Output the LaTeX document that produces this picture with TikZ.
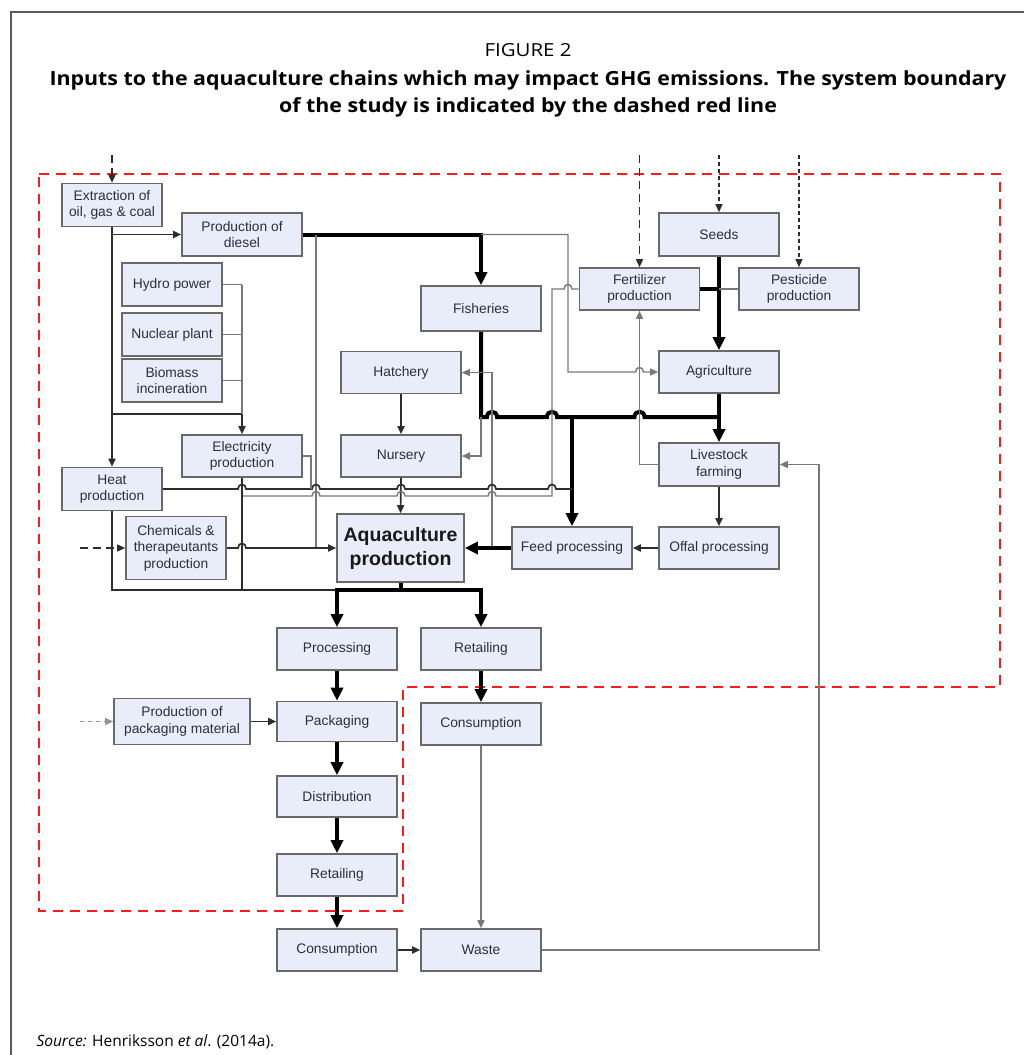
\documentclass[tikz,border=0pt]{standalone}
\usepackage{fontspec}
\setmainfont{Liberation Sans}
\newfontfamily\titlefont{Open Sans}
\usetikzlibrary{arrows.meta}
\definecolor{boxfill}{RGB}{233,237,249}
\definecolor{boxdraw}{RGB}{105,105,105}
\definecolor{txt}{RGB}{45,45,62}
\definecolor{ln}{RGB}{120,120,120}
\definecolor{dk}{RGB}{45,45,45}
\definecolor{bred}{RGB}{255,25,25}
\definecolor{framecol}{RGB}{90,90,90}
\newcommand\hopH[2]{-- ({#1-4},#2) .. controls ({#1-4},{#2-6}) and ({#1+4},{#2-6}) .. ({#1+4},#2)}
\newcommand\hopT[2]{-- ({#1-5},#2) .. controls ({#1-5},{#2-7}) and ({#1+5},{#2-7}) .. ({#1+5},#2)}
\newlength\tlw
\newlength\tlwb
\begin{document}
\settowidth\tlw{\titlefont\bfseries\fontsize{19.5}{22}\selectfont Inputs to the aquaculture chains which may impact GHG emissions. The system boundary}%
\pgfmathsetmacro\tsc{957/\tlw}%
\settowidth\tlwb{\titlefont\fontsize{18}{22}\selectfont FIGURE 2}%
\pgfmathsetmacro\fsc{87/\tlwb}%
\begin{tikzpicture}[x=1pt,y=-1pt,
  box/.style={draw=boxdraw, fill=boxfill, line width=1.6pt, minimum width=120pt,
    minimum height=42pt, inner sep=0pt, align=center, text=txt,
    font=\fontsize{13.8}{16.5}\selectfont},
  thinln/.style={draw=ln, line width=1.4pt},
  darkln/.style={draw=dk, line width=1.7pt},
  thickln/.style={draw=black, line width=4pt},
  tipS/.tip={Triangle[length=8pt,width=7pt]},
  tipL/.tip={Triangle[length=13pt,width=12pt]},
  dshA/.style={draw=dk, line width=1.5pt, dash pattern=on 8pt off 5pt},
  dshB/.style={draw=dk, line width=1.3pt, dash pattern=on 4pt off 3pt},
  dshC/.style={draw=ln!80, line width=1.3pt, dash pattern=on 4pt off 4pt},
  redb/.style={draw=bred, line width=2.6pt, dash pattern=on 10pt off 7pt},
]
\useasboundingbox (0,0) rectangle (1023,1055);
\draw[framecol, line width=1.5pt] (11,1060) -- (11,12) -- (1030,12);

% ---- title
\node[anchor=base, font=\titlefont\fontsize{18}{22}\selectfont] (t0) at (528,56) {\scalebox{\fsc}[1]{FIGURE 2}};
\node[anchor=base, font=\titlefont\bfseries\fontsize{19.5}{22}\selectfont] (t1) at (528,85) {\scalebox{\tsc}[1]{Inputs to the aquaculture chains which may impact GHG emissions. The system boundary}};
\node[anchor=base, font=\titlefont\bfseries\fontsize{19.5}{22}\selectfont] (t2) at (528,112) {\scalebox{\tsc}[1]{of the study is indicated by the dashed red line}};
\node[anchor=base west, font=\titlefont\fontsize{15.5}{18}\selectfont] (src) at (33,1046) {\textit{Source:} Henriksson \textit{et al}. (2014a).};

% ---- system boundary
\draw[redb] (39,174) -- (1000,174) -- (1000,687) -- (403,687) -- (403,911) -- (39,911) -- cycle;

% ---- nodes
\node[box, minimum width=100pt, minimum height=43pt] (ext) at (112,205) {Extraction of\\oil, gas \& coal};
\node[box, minimum height=43pt] (dies) at (242,234.5) {Production of\\diesel};
\node[box, minimum width=100pt, minimum height=43pt] (hydro) at (172,284.5) {Hydro power};
\node[box, minimum width=100pt, minimum height=43pt] (nucl) at (172,334.5) {Nuclear plant};
\node[box, minimum width=100pt, minimum height=43pt] (bio) at (172,380.5) {Biomass\\incineration};
\node[box] (elec) at (242,456) {Electricity\\production};
\node[box, minimum width=100pt, minimum height=43pt] (heat) at (112,489) {Heat\\production};
\node[box, minimum width=100pt, minimum height=63pt] (chem) at (176,548) {Chemicals \&\\therapeutants\\production};
\node[box, minimum width=127pt, minimum height=68pt, text=black!90,
      font=\fontsize{19.5}{24}\selectfont\bfseries] (aqua) at (400.5,548) {Aquaculture\\production};
\node[box] (hatch) at (401,372.5) {Hatchery};
\node[box] (nurs) at (401,456) {Nursery};
\node[box, minimum height=45pt] (fish) at (481,308.5) {Fisheries};
\node[box] (fert) at (639.5,289) {Fertilizer\\production};
\node[box, minimum height=43pt] (seeds) at (719,234.5) {Seeds};
\node[box] (pest) at (799,289) {Pesticide\\production};
\node[box] (agri) at (719,372) {Agriculture};
\node[box, minimum height=43pt] (live) at (719,464.5) {Livestock\\farming};
\node[box] (offal) at (719,548) {Offal processing};
\node[box] (feed) at (572,548) {Feed processing};
\node[box] (proc) at (337,649) {Processing};
\node[box, minimum height=40pt] (pack) at (337,721.5) {Packaging};
\node[box, minimum height=41pt] (dist) at (337,796.5) {Distribution};
\node[box] (retL) at (337,875) {Retailing};
\node[box] (consL) at (337,950) {Consumption};
\node[box, minimum width=136pt, minimum height=46pt] (pkm) at (182,721.5) {Production of\\packaging material};
\node[box] (retR) at (481,649) {Retailing};
\node[box] (consR) at (481,724) {Consumption};
\node[box] (waste) at (481,950) {Waste};

% ---- free ends of external inputs
\coordinate (sExt) at (112,155);
\coordinate (sFert) at (639.5,155);
\coordinate (sSeed) at (719,155);
\coordinate (sPest) at (799,155);
\coordinate (sChem) at (80,548);
\coordinate (sPkm) at (80,721.5);

\draw[dshA,-tipS] (sExt) -- (ext.north);
\draw[dshA,-tipS] (sFert) -- (fert.north);
\draw[dshB,-tipS] (sSeed) -- (seeds.north);
\draw[dshB,-tipS] (sPest) -- (pest.north);
\draw[dshA,-tipS] (sChem) -- (chem.west);
\draw[dshC,-tipS] (sPkm) -- (pkm.west);

% ---- energy
\draw[darkln,-tipS] (ext.south) -- (heat.north);
\draw[darkln,-tipS] (ext.south |- dies.west) -- (dies.west);
\draw[darkln] (112,414) -- (242,414);
\draw[thinln] (hydro.east) -- (242,284.5);
\draw[thinln] (nucl.east) -- (242,334.5);
\draw[thinln] (bio.east) -- (242,380.5);
\draw[thinln] (242,284.5) -- (242,414);
\draw[darkln,-tipS] (242,414) -- (elec.north);

% ---- diesel
\draw[thickln,-tipL] (dies.east) -- (481,234.5) -- (fish.north);
\draw[thinln,-tipS] (481,234.5) -- (568,234.5) -- (568,372) \hopH{639.5}{372} -- (agri.west);
\draw[thinln] (316,234.5) -- (316,548);

% ---- fisheries / agriculture to feed
\draw[thickln] (fish.south) -- (481,417) \hopT{492}{417} \hopT{552}{417} \hopT{639.5}{417} -- (719,417);
\draw[thickln,-tipL] (572,417) -- (feed.north);
\draw[thickln,-tipL] (seeds.south) -- (agri.north);
\draw[thickln,-tipL] (agri.south) -- (live.north);
\draw[thickln] (fert.east) -- (719,289);
\draw[thinln] (pest.west) -- (719,289);

% ---- hatchery / nursery
\draw[thinln,-tipS] (492,548) -- (492,372.5) -- (hatch.east);
\draw[thinln,-tipS] (481,417) -- (481,456) -- (nurs.east);
\draw[darkln,-tipS] (hatch.south) -- (nurs.north);
\draw[darkln,-tipS] (nurs.south) -- (aqua.north);

% ---- fertilizer / livestock
\draw[thinln] (242,496) \hopH{316}{496} \hopH{401}{496} \hopH{492}{496} -- (552,496) -- (552,289) \hopH{568}{289} -- (fert.west);
\draw[thinln,-tipS] (live.west) -- (639.5,464.5) -- (fert.south);

% ---- heat & electricity
\draw[darkln] (heat.east) \hopH{242}{489} \hopH{316}{489} \hopH{401}{489} \hopH{492}{489} \hopH{552}{489} -- (572,489);
\draw[thinln] (elec.east) -- (311,456) -- (311,489);
\draw[darkln] (elec.south) -- (242,590);
\draw[darkln] (heat.south) -- (112,590) -- (337,590);
\draw[darkln,-tipS] (chem.east) \hopH{242}{548} -- (aqua.west);

% ---- aquaculture output
\draw[thickln] (aqua.south) -- (400.5,590);
\draw[thickln,-tipL] (400.5,590) -| (proc.north);
\draw[thickln,-tipL] (400.5,590) -| (retR.north);
\draw[thickln,-tipL] (feed.west) -- (aqua.east);
\draw[darkln,-tipS] (offal.west) -- (feed.east);
\draw[darkln,-tipS] (live.south) -- (offal.north);

% ---- downstream chain
\draw[thickln,-tipL] (proc.south) -- (pack.north);
\draw[thickln,-tipL] (pack.south) -- (dist.north);
\draw[thickln,-tipL] (dist.south) -- (retL.north);
\draw[thickln,-tipL] (retL.south) -- (consL.north);
\draw[thickln,-tipL] (retR.south) -- (consR.north);
\draw[darkln,-tipS] (pkm.east) -- (pack.west);
\draw[darkln,-tipS] (consL.east) -- (waste.west);
\draw[thinln,-tipS] (consR.south) -- (waste.north);
\draw[thinln,-tipS] (waste.east) -- (819,950) -- (819,464.5) -- (live.east);
\end{tikzpicture}
\end{document}
